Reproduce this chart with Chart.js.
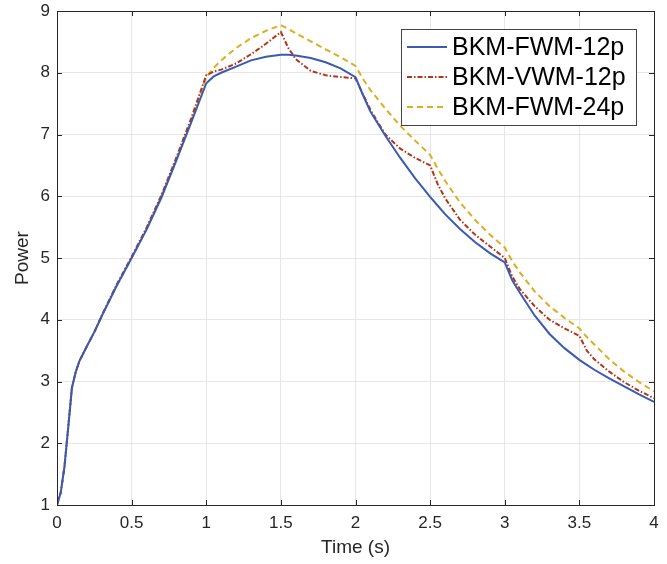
<!DOCTYPE html>
<html>
<head>
<meta charset="utf-8">
<script src="https://cdn.jsdelivr.net/npm/chart.js@4"></script>
<style>
  body { margin: 0; background: #fff; }
  canvas { display: block; }
</style>
</head>
<body>
<canvas id="power-chart" width="667" height="564"></canvas>
<script>
// sample times (s)
const times = [0, 0.025, 0.05, 0.075, 0.1, 0.125, 0.15, 0.2, 0.25, 0.3, 0.4, 0.5, 0.6, 0.7, 0.8, 0.9,
  1.0, 1.05, 1.1, 1.2, 1.3, 1.4, 1.5, 1.55, 1.6, 1.7, 1.8, 1.9, 2.0, 2.05, 2.1, 2.2, 2.3, 2.4, 2.5,
  2.55, 2.6, 2.7, 2.8, 2.9, 3.0, 3.05, 3.1, 3.2, 3.3, 3.4, 3.5, 3.55, 3.6, 3.7, 3.8, 3.9, 4.0];

const fwm12 = [1.0, 1.2, 1.62, 2.25, 2.9, 3.15, 3.33, 3.57, 3.8, 4.06, 4.55, 5.0, 5.46, 5.98, 6.58, 7.2,
  7.83, 7.94, 8.0, 8.1, 8.2, 8.26, 8.29, 8.29, 8.28, 8.24, 8.17, 8.07, 7.93, 7.64, 7.37, 6.98, 6.62, 6.29, 5.99,
  5.85, 5.71, 5.47, 5.26, 5.08, 4.93, 4.64, 4.44, 4.07, 3.77, 3.54, 3.35, 3.27, 3.19, 3.05, 2.92, 2.79, 2.67];

const vwm12 = [1.0, 1.2, 1.62, 2.25, 2.9, 3.15, 3.33, 3.57, 3.8, 4.07, 4.57, 5.02, 5.49, 6.02, 6.63, 7.27,
  7.96, 8.02, 8.05, 8.15, 8.3, 8.47, 8.66, 8.4, 8.22, 8.03, 7.96, 7.93, 7.91, 7.65, 7.4, 7.0, 6.77, 6.62, 6.5,
  6.2, 5.97, 5.62, 5.38, 5.19, 5.0, 4.7, 4.5, 4.22, 4.0, 3.86, 3.74, 3.5, 3.36, 3.16, 2.99, 2.85, 2.73];

const fwm24 = [1.0, 1.2, 1.62, 2.25, 2.9, 3.15, 3.33, 3.57, 3.8, 4.06, 4.55, 5.0, 5.47, 6.0, 6.6, 7.23,
  7.93, 8.08, 8.2, 8.4, 8.56, 8.68, 8.77, 8.71, 8.64, 8.51, 8.38, 8.25, 8.11, 7.9, 7.72, 7.42, 7.14, 6.9, 6.67,
  6.45, 6.25, 5.9, 5.62, 5.38, 5.17, 4.95, 4.77, 4.46, 4.22, 4.03, 3.86, 3.72, 3.6, 3.36, 3.16, 2.99, 2.84];

const seriesLabels = ['BKM-FWM-12p', 'BKM-VWM-12p', 'BKM-FWM-24p'];

const toPoints = vals => vals.map((v, i) => ({ x: times[i], y: v }));

const FONT = "'Liberation Sans', Arial, Helvetica, sans-serif";
const AXIS_COLOR = '#262626';

// box round the axes with inward ticks, then the legend box
const axesAndLegend = {
    id: 'axesAndLegend',
    afterDatasetsDraw(chart) {
        const ctx = chart.ctx;
        const a = chart.chartArea;
        const tl = 5;
        ctx.save();
        ctx.strokeStyle = AXIS_COLOR;
        ctx.lineWidth = 1;
        ctx.beginPath();
        chart.scales.x.ticks.forEach(t => {
            const px = Math.round(chart.scales.x.getPixelForValue(t.value)) + 0.5;
            ctx.moveTo(px, a.bottom); ctx.lineTo(px, a.bottom - tl);
            ctx.moveTo(px, a.top); ctx.lineTo(px, a.top + tl);
        });
        chart.scales.y.ticks.forEach(t => {
            const py = Math.round(chart.scales.y.getPixelForValue(t.value)) + 0.5;
            ctx.moveTo(a.left, py); ctx.lineTo(a.left + tl, py);
            ctx.moveTo(a.right, py); ctx.lineTo(a.right - tl, py);
        });
        ctx.stroke();
        ctx.strokeRect(Math.round(a.left) + 0.5, Math.round(a.top) + 0.5,
            Math.round(a.right - a.left), Math.round(a.bottom - a.top));

        // legend
        const w = 235, h = 96;
        const x0 = Math.round(a.right - 18 - w), y0 = Math.round(a.top + 18);
        ctx.fillStyle = '#fff';
        ctx.fillRect(x0, y0, w, h);
        ctx.strokeStyle = '#444';
        ctx.strokeRect(x0 + 0.5, y0 + 0.5, w, h);
        ctx.font = '25px ' + FONT;
        ctx.textBaseline = 'middle';
        chart.data.datasets.forEach((ds, i) => {
            const y = y0 + 18 + i * 30;
            ctx.strokeStyle = ds.borderColor;
            ctx.lineWidth = ds.borderWidth;
            ctx.setLineDash(ds.borderDash || []);
            ctx.beginPath();
            ctx.moveTo(x0 + 6, y);
            ctx.lineTo(x0 + 46, y);
            ctx.stroke();
            ctx.setLineDash([]);
            ctx.fillStyle = '#000';
            ctx.fillText(ds.label, x0 + 51, y + 1);
        });
        ctx.restore();
    }
};

new Chart(document.getElementById('power-chart').getContext('2d'), {
    type: 'line',
    data: {
        datasets: [
            { label: seriesLabels[0], data: toPoints(fwm12), borderColor: '#3a5bb4', borderWidth: 2 },
            { label: seriesLabels[1], data: toPoints(vwm12), borderColor: '#b0361c', borderWidth: 2, borderDash: [5, 2, 1.5, 2] },
            { label: seriesLabels[2], data: toPoints(fwm24), borderColor: '#dcae22', borderWidth: 2, borderDash: [6, 4] }
        ]
    },
    options: {
        responsive: false,
        animation: false,
        elements: { point: { radius: 0 }, line: { tension: 0, fill: false } },
        layout: { padding: { left: 0, right: 13, top: 11, bottom: 0 } },
        plugins: { legend: { display: false }, tooltip: { enabled: false } },
        scales: {
            x: {
                type: 'linear', min: 0, max: 4,
                afterFit: s => { s.height = 59; s.paddingLeft = 0; s.paddingRight = 0; },
                border: { display: false },
                grid: { color: '#e6e6e6', drawTicks: false },
                ticks: { stepSize: 0.5, padding: 8, color: AXIS_COLOR, font: { family: FONT, size: 17 },
                         callback: v => String(v) },
                title: { display: true, text: 'Time (s)', color: AXIS_COLOR, font: { family: FONT, size: 19 }, padding: { top: 0, bottom: 5 } }
            },
            y: {
                min: 1, max: 9,
                afterFit: s => { s.width = 57; s.paddingTop = 0; s.paddingBottom = 0; },
                border: { display: false },
                grid: { color: '#e6e6e6', drawTicks: false },
                ticks: { stepSize: 1, padding: 7, color: AXIS_COLOR, font: { family: FONT, size: 17 } },
                title: { display: true, text: 'Power', color: AXIS_COLOR, font: { family: FONT, size: 19 }, padding: { top: 11, bottom: 0 } }
            }
        }
    },
    plugins: [axesAndLegend]
});
</script>
</body>
</html>
